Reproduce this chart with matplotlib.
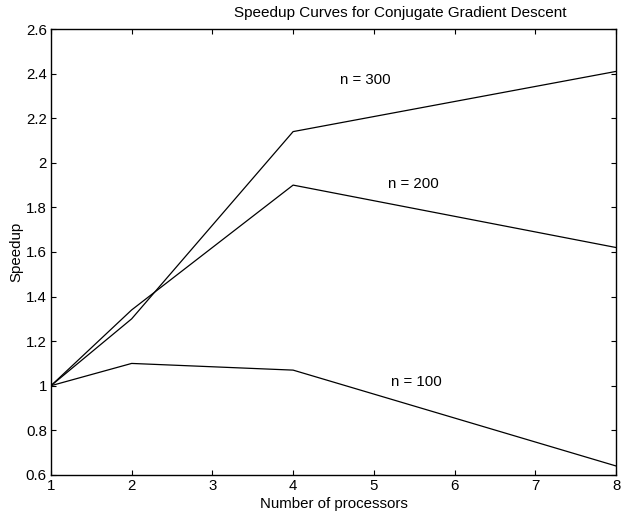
import numpy as np
import matplotlib
matplotlib.use('Agg')
import matplotlib.pyplot as plt

plt.rcParams['font.family'] = ['Liberation Sans', 'DejaVu Sans']

# processors and speedup for each problem size
procs = [1, 2, 4, 8]
speedup_100 = [1.0, 1.10, 1.07, 0.64]
speedup_200 = [1.0, 1.34, 1.90, 1.62]
speedup_300 = [1.0, 1.30, 2.14, 2.41]

labels = ['n = 100', 'n = 200', 'n = 300']
label_pos = [(5.53, 1.018), (5.49, 1.905), (4.90, 2.37)]

fig = plt.figure(figsize=(6.21, 5.19), dpi=100)
ax = fig.add_axes([0.082, 0.085, 0.910, 0.859])

for s in [speedup_100, speedup_200, speedup_300]:
    ax.plot(procs, s, color='black', linewidth=0.9)

for lab, (x, y) in zip(labels, label_pos):
    ax.text(x, y, lab, fontsize=10.8, ha='center', va='center')

ax.set_xlim(1, 8)
ax.set_ylim(0.6, 2.6)
ax.set_xticks(range(1, 9))
ax.set_yticks(np.arange(0.6, 2.61, 0.2))
ax.set_yticklabels(['0.6', '0.8', '1', '1.2', '1.4', '1.6', '1.8', '2', '2.2', '2.4', '2.6'])
ax.tick_params(direction='in', length=3.5, labelsize=10.8, top=True, right=True, width=0.8, pad=3)
for sp in ax.spines.values():
    sp.set_linewidth(1.0)

ax.set_title('Speedup Curves for Conjugate Gradient Descent', fontsize=11, pad=9)
ax.title.set_x(0.618)
ax.set_xlabel('Number of processors', fontsize=10.8, labelpad=2.5)
ax.set_ylabel('Speedup', fontsize=10.8, labelpad=2)

fig.savefig('out.png', dpi=100)
